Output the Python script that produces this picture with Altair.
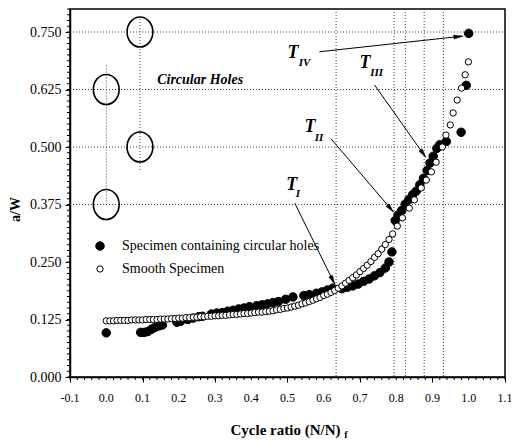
import math
import altair as alt
import pandas as pd

HOLES = "Specimen containing circular holes"
SMOOTH = "Smooth Specimen"

# ---- data ----
holes_x = [0.000, 0.095, 0.105, 0.115, 0.125, 0.135, 0.145, 0.155, 0.195, 0.205,
           0.225, 0.240, 0.255, 0.265, 0.290, 0.305, 0.320, 0.335, 0.350, 0.365,
           0.380, 0.395, 0.415, 0.430, 0.445, 0.460, 0.475, 0.495, 0.515, 0.545,
           0.560, 0.580, 0.595, 0.610, 0.625, 0.650, 0.665, 0.680, 0.695, 0.710,
           0.725, 0.740, 0.755, 0.770, 0.780, 0.788, 0.797, 0.805, 0.815, 0.825,
           0.835, 0.845, 0.855, 0.865, 0.875, 0.885, 0.893, 0.902, 0.912, 0.920,
           0.938, 0.979, 0.993, 1.000]
holes_y = [0.096, 0.097, 0.097, 0.099, 0.104, 0.108, 0.111, 0.113, 0.119, 0.121,
           0.125, 0.128, 0.131, 0.132, 0.137, 0.139, 0.140, 0.143, 0.145, 0.148,
           0.150, 0.153, 0.155, 0.157, 0.159, 0.162, 0.164, 0.169, 0.174, 0.177,
           0.179, 0.182, 0.185, 0.189, 0.193, 0.192, 0.195, 0.198, 0.202, 0.208,
           0.213, 0.220, 0.227, 0.237, 0.250, 0.272, 0.340, 0.352, 0.362, 0.376,
           0.386, 0.396, 0.404, 0.418, 0.432, 0.449, 0.465, 0.480, 0.497, 0.505,
           0.512, 0.532, 0.634, 0.747]

smooth_x = [0.00, 0.01, 0.02, 0.03, 0.04, 0.05, 0.06, 0.07, 0.08, 0.09,
            0.10, 0.11, 0.12, 0.13, 0.14, 0.15, 0.16, 0.17, 0.18, 0.19,
            0.20, 0.21, 0.22, 0.23, 0.24, 0.25, 0.26, 0.27, 0.28, 0.29,
            0.30, 0.31, 0.32, 0.33, 0.34, 0.35, 0.36, 0.37, 0.38, 0.39,
            0.40, 0.41, 0.42, 0.43, 0.44, 0.45, 0.46, 0.47, 0.48, 0.49,
            0.50, 0.51, 0.52, 0.53, 0.54, 0.55, 0.56, 0.57, 0.58, 0.59,
            0.60, 0.61, 0.62, 0.63, 0.64, 0.65, 0.66, 0.67, 0.68, 0.69,
            0.70, 0.71, 0.72, 0.73, 0.74, 0.75, 0.76, 0.77, 0.78, 0.79,
            0.803, 0.817, 0.836, 0.850, 0.869, 0.883, 0.897, 0.910, 0.927, 0.937,
            0.949, 0.957, 0.968, 0.980, 0.990, 0.999]
smooth_y = [0.122, 0.122, 0.122, 0.123, 0.123, 0.123, 0.123, 0.124, 0.124, 0.124,
            0.124, 0.125, 0.125, 0.125, 0.125, 0.126, 0.126, 0.126, 0.127, 0.127,
            0.128, 0.128, 0.129, 0.129, 0.130, 0.130, 0.131, 0.131, 0.132, 0.132,
            0.133, 0.133, 0.134, 0.134, 0.135, 0.136, 0.136, 0.137, 0.138, 0.138,
            0.139, 0.140, 0.141, 0.141, 0.142, 0.143, 0.144, 0.146, 0.147, 0.149,
            0.150, 0.152, 0.154, 0.156, 0.159, 0.161, 0.164, 0.167, 0.170, 0.173,
            0.177, 0.180, 0.184, 0.188, 0.193, 0.198, 0.204, 0.210, 0.216, 0.222,
            0.229, 0.236, 0.243, 0.251, 0.260, 0.268, 0.278, 0.288, 0.299, 0.311,
            0.328, 0.346, 0.367, 0.385, 0.411, 0.428, 0.446, 0.467, 0.500, 0.526,
            0.548, 0.574, 0.602, 0.628, 0.657, 0.685]

x_ticks = [-0.1, 0.0, 0.1, 0.2, 0.3, 0.4, 0.5, 0.6, 0.7, 0.8, 0.9, 1.0, 1.1]
x_tick_labels = ["-0.1", "0.0", "0.1", "0.2", "0.3", "0.4", "0.5", "0.6", "0.7",
                 "0.8", "0.9", "1.0", "1.1"]
y_ticks = [0.0, 0.125, 0.25, 0.375, 0.5, 0.625, 0.75]
grid_y = [0.375, 0.5, 0.625, 0.75]
grid_x = [0.634, 0.794, 0.825, 0.877, 0.930]

hole_x = [0.093, 0.0, 0.093, 0.0]
hole_y = [0.75, 0.625, 0.5, 0.375]
guide_x = [0.0, 0.093]
guide_y1 = [0.375, 0.45]
guide_y2 = [0.678, 0.78]

ann_sub = ["IV", "III", "II", "I"]
ann_t_x = [0.515, 0.714, 0.562, 0.512]
ann_t_y = [0.704, 0.683, 0.543, 0.417]
ann_sub_x = [0.547, 0.746, 0.587, 0.529]
ann_sub_y = [0.682, 0.660, 0.520, 0.397]
arrow_x1 = [0.588, 0.740, 0.620, 0.520]
arrow_y1 = [0.707, 0.635, 0.518, 0.378]
arrow_x2 = [0.983, 0.881, 0.792, 0.630]
arrow_y2 = [0.741, 0.478, 0.359, 0.202]

# ---- layout ----
W, H = 435, 368
XD = [-0.1, 1.1]
YD = [0.0, 0.8]
PX = W / (XD[1] - XD[0])
PY = H / (YD[1] - YD[0])
SERIF = "Liberation Serif, Times New Roman, serif"

xs = alt.Scale(domain=XD, nice=False, zero=False)
ys = alt.Scale(domain=YD, nice=False, zero=False)

pts = pd.DataFrame({
    "x": holes_x + smooth_x,
    "y": holes_y + smooth_y,
    "s": [HOLES] * len(holes_x) + [SMOOTH] * len(smooth_x),
})

base_axis_x = alt.Axis(values=x_ticks, labels=False, title="Cycle ratio (N/N)",
                       titleX=215, titleY=52, titleAlign="center", titleBaseline="middle",
                       titleFont=SERIF, titleFontSize=15, titleFontWeight="bold",
                       tickSize=5, grid=False)
base_axis_y = alt.Axis(values=y_ticks, format=".3f", title="a/W",
                       titleAngle=270, titleX=-55, titleY=200, titleAlign="center",
                       titleBaseline="middle", titleFont=SERIF, titleFontSize=14,
                       titleFontWeight="bold", labelFont=SERIF, labelFontSize=14,
                       labelOverlap=False, labelFlush=False,
                       labelPadding=4, tickSize=5, grid=False)

gh = alt.Chart(pd.DataFrame({"y": grid_y})).mark_rule(
    color="#444", strokeDash=[1, 2], strokeWidth=1
).encode(y=alt.Y("y:Q", scale=ys, axis=base_axis_y), x=alt.value(0), x2=alt.value(W))

gv = alt.Chart(pd.DataFrame({"x": grid_x})).mark_rule(
    color="#444", strokeDash=[1, 2], strokeWidth=1
).encode(x=alt.X("x:Q", scale=xs, axis=base_axis_x), y=alt.value(0), y2=alt.value(H))

guides = alt.Chart(pd.DataFrame({"x": guide_x, "y": guide_y1, "y2": guide_y2})).mark_rule(
    color="#444", strokeDash=[1, 2], strokeWidth=1
).encode(x="x:Q", y="y:Q", y2="y2:Q")

ELLIPSE = "M -0.86 0 A 0.86 1 0 1 0 0.86 0 A 0.86 1 0 1 0 -0.86 0 Z"
holes = alt.Chart(pd.DataFrame({"x": hole_x, "y": hole_y})).mark_point(
    shape=ELLIPSE, size=900, filled=False, stroke="black", strokeWidth=1.6, opacity=1
).encode(x="x:Q", y="y:Q")

minor_x = [round(XD[0] + 0.02 * i, 3) for i in range(61)]
minor_y = [round(0.0125 * i, 4) for i in range(65)]
mx = alt.Chart(pd.DataFrame({"x": minor_x})).mark_rule(color="black", strokeWidth=1).encode(
    x="x:Q", y=alt.value(H), y2=alt.value(H + 3))
my = alt.Chart(pd.DataFrame({"y": minor_y})).mark_rule(color="black", strokeWidth=1).encode(
    y="y:Q", x=alt.value(-3), x2=alt.value(0))

xlab = alt.Chart(pd.DataFrame({"x": x_ticks, "t": x_tick_labels})).mark_text(
    font=SERIF, fontSize=12, color="black", baseline="middle", align="center"
).encode(x="x:Q", y=alt.value(H + 21), text="t:N")

def legend():
    return alt.Legend(orient="none", legendX=23, legendY=230, title=None,
                      padding=0, labelFont=SERIF, labelFontSize=14, labelLimit=0,
                      labelColor="black", labelOffset=15, rowPadding=9,
                      symbolStrokeColor="black", symbolStrokeWidth=1,
                      symbolType="circle")

scatter = alt.Chart(pts).mark_point(
    shape="circle", filled=True, strokeWidth=1, opacity=1
).encode(
    x="x:Q", y="y:Q",
    fill=alt.Fill("s:N", scale=alt.Scale(domain=[HOLES, SMOOTH], range=["black", "white"]),
                  legend=legend()),
    stroke=alt.Stroke("s:N", scale=alt.Scale(domain=[HOLES, SMOOTH], range=["black", "black"]),
                      legend=legend()),
    size=alt.Size("s:N", scale=alt.Scale(domain=[HOLES, SMOOTH], range=[72, 40]),
                  legend=legend()),
)

angles = []
for a, b, c, d in zip(arrow_x1, arrow_y1, arrow_x2, arrow_y2):
    dx = (c - a) * PX
    dy = -(d - b) * PY
    angles.append(math.degrees(math.atan2(dx, -dy)) % 360)

arr = pd.DataFrame({"x": arrow_x1, "y": arrow_y1, "x2": arrow_x2, "y2": arrow_y2, "ang": angles})
arrow_lines = alt.Chart(arr).mark_rule(color="black", strokeWidth=1).encode(
    x="x:Q", y="y:Q", x2="x2:Q", y2="y2:Q")
arrow_heads = alt.Chart(arr).mark_point(
    shape="M0,0 L0.5,2.2 L-0.5,2.2 Z", size=64, filled=True, fill="black",
    stroke="black", strokeWidth=0.5, opacity=1
).encode(x="x2:Q", y="y2:Q", angle=alt.Angle("ang:Q", scale=None))

t_text = alt.Chart(pd.DataFrame({"x": ann_t_x, "y": ann_t_y, "t": ["T"] * 4})).mark_text(
    font=SERIF, fontSize=18, fontStyle="italic", fontWeight="bold", color="black",
    baseline="middle", align="center"
).encode(x="x:Q", y="y:Q", text="t:N")
sub_text = alt.Chart(pd.DataFrame({"x": ann_sub_x, "y": ann_sub_y, "t": ann_sub})).mark_text(
    font=SERIF, fontSize=11, fontStyle="italic", fontWeight="bold", color="black",
    baseline="middle", align="center"
).encode(x="x:Q", y="y:Q", text="t:N")

circ_label = alt.Chart(pd.DataFrame({"x": [0.259], "y": [0.646], "t": ["Circular Holes"]})).mark_text(
    font=SERIF, fontSize=14, fontStyle="italic", fontWeight="bold", color="black",
    baseline="middle", align="center"
).encode(x="x:Q", y="y:Q", text="t:N")

sub_f = alt.Chart(pd.DataFrame({"t": ["f"]})).mark_text(
    font=SERIF, fontSize=10, fontWeight="bold", color="black", baseline="middle", align="center"
).encode(x=alt.value(276), y=alt.value(H + 58), text="t:N")

chart = alt.layer(
    gh, gv, guides, holes, mx, my, xlab, scatter, arrow_lines, arrow_heads,
    t_text, sub_text, circ_label, sub_f
).properties(
    width=W, height=H,
    padding={"left": 70, "top": 9, "right": 7, "bottom": 63},
    autosize=alt.AutoSizeParams(type="none"),
    background="white",
).configure_view(
    stroke="black", strokeWidth=1.5
).configure_axis(
    domainColor="black", domainWidth=1.5, tickColor="black", tickWidth=1,
    labelColor="black", titleColor="black"
)

chart.save("out.html", embed_options={"renderer": "svg", "actions": False})
